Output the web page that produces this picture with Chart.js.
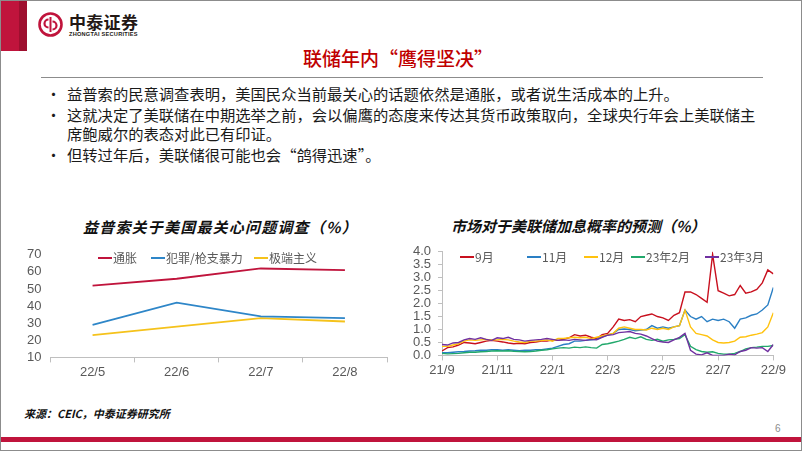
<!DOCTYPE html>
<html>
<head>
<meta charset="utf-8">
<script src="https://cdn.jsdelivr.net/npm/chart.js@4.4.0/dist/chart.umd.min.js"></script>
<style>
  html, body { margin: 0; padding: 0; background: #fff; }
  #slide {
    position: relative; width: 802px; height: 451px; overflow: hidden;
    box-sizing: border-box; border: 1px solid #8c8c8c; background: #fff;
    font-family: "Noto Sans CJK SC", "Noto Sans", sans-serif; color: #1a1a1a;
  }
  .abs { position: absolute; white-space: nowrap; }
  #redBlock { left: -1px; top: -1px; width: 27px; height: 51px; background: #c0143c; }
  #redBlock2 { left: 18px; top: -1px; width: 8px; height: 51px; background: #9e0f2f; }
  #brand { left: 68px; top: 11px; font-size: 17px; font-weight: 700; letter-spacing: 0.3px; color: #231815; line-height: 20px; }
  #brandEn { left: 68px; top: 30px; font-family: "Liberation Sans", Arial, sans-serif; font-size: 5.6px; font-weight: 700; letter-spacing: 0.25px; color: #231815; }
  #title { left: 302px; top: 45px; font-size: 19px; font-weight: 500; color: #c00000; line-height: 24px; }
  #rule { left: 40px; top: 76px; width: 722px; height: 1px; background: #8c8c8c; }
  .bullet { left: 45px; font-size: 15px; }
  .line { left: 66px; font-size: 15.3px; line-height: 20px; }
  .ctitle { font-size: 15px; font-weight: 700; font-style: italic; color: #111; line-height: 20px; }
  .leg { font-size: 12px; color: #595959; line-height: 16px; display: flex; align-items: center; }
  .leg i { display: inline-block; width: 14px; height: 2px; margin-right: 1px; }
  canvas { position: absolute; }
  #source { left: 23px; top: 404px; font-size: 11px; font-weight: 700; font-style: italic; color: #111; }
  #page { left: 774px; top: 422px; font-family: "Liberation Sans", Arial, sans-serif; font-size: 10px; color: #8c8c8c; }
  #bottomBar { left: 0; top: 436px; width: 802px; height: 5px; background: #c0143c; }
</style>
</head>
<body>
<div id="slide">
  <div class="abs" id="redBlock"></div>
  <div class="abs" id="redBlock2"></div>
  <svg class="abs" style="left:37px;top:11px" width="25" height="25" viewBox="0 0 25 25">
    <circle cx="12.5" cy="12.5" r="11" fill="none" stroke="#c0143c" stroke-width="2.6"/>
    <path d="M10.5 7.5 A4 4 0 1 0 10.5 15.5" fill="none" stroke="#c0143c" stroke-width="2.2"/>
    <path d="M14.5 9.5 A4 4 0 1 1 14.5 17.5" fill="none" stroke="#c0143c" stroke-width="2.2"/>
    <line x1="12.5" y1="5" x2="12.5" y2="20" stroke="#c0143c" stroke-width="2"/>
  </svg>
  <div class="abs" id="brand">中泰证券</div>
  <div class="abs" id="brandEn">ZHONGTAI SECURITIES</div>

  <div class="abs" id="title">联储年内“鹰得坚决”</div>
  <div class="abs" id="rule"></div>

  <div class="abs bullet" style="top:82px">•</div>
  <div class="abs line" style="top:82px">益普索的民意调查表明，美国民众当前最关心的话题依然是通胀，或者说生活成本的上升。</div>
  <div class="abs bullet" style="top:103px">•</div>
  <div class="abs line" style="top:103px">这就决定了美联储在中期选举之前，会以偏鹰的态度来传达其货币政策取向，全球央行年会上美联储主</div>
  <div class="abs line" style="top:122px">席鲍威尔的表态对此已有印证。</div>
  <div class="abs bullet" style="top:143px">•</div>
  <div class="abs line" style="top:143px">但转过年后，美联储很可能也会“鸽得迅速”。</div>

  <div class="abs ctitle" style="left:82px;top:216px;letter-spacing:1.2px">益普索关于美国最关心问题调查（%）</div>
  <div class="abs ctitle" style="left:450px;top:215px">市场对于美联储加息概率的预测（%）</div>

  <canvas id="surveyChart" width="385" height="144" style="left:10px;top:237px"></canvas>
  <canvas id="hikeChart" width="387" height="143" style="left:400px;top:236px"></canvas>

  <div id="surveyLegend"></div>
  <div id="hikeLegend"></div>

  <div class="abs" id="source">来源：CEIC，中泰证券研究所</div>
  <div class="abs" id="page">6</div>
  <div class="abs" id="bottomBar"></div>
</div>

<script>
// left chart: Ipsos survey (%)
const surveyMonths = ['22/5', '22/6', '22/7', '22/8'];
const surveyNames = ['通胀', '犯罪/枪支暴力', '极端主义'];
const inflation = [52, 56, 62, 61];
const crime = [29, 42, 34, 33];
const extremism = [23, 28, 33, 31];

// right chart: market-implied hikes, x = months since 21/9
const hikeTickLabels = ['21/9', '21/11', '22/1', '22/3', '22/5', '22/7', '22/9'];
const hikeNames = ['9月', '11月', '12月', '23年2月', '23年3月'];
const hikeX = [0, 0.2, 0.4, 0.6, 0.8, 1, 1.2, 1.4, 1.6, 1.8,
    2, 2.2, 2.4, 2.6, 2.8, 3, 3.2, 3.4, 3.6, 3.8,
    4, 4.2, 4.4, 4.6, 4.8, 5, 5.2, 5.4, 5.6, 5.8,
    6, 6.2, 6.4, 6.6, 6.8, 7, 7.2, 7.4, 7.6, 7.8,
    8, 8.2, 8.4, 8.6, 8.8, 9, 9.2, 9.4, 9.6, 9.8,
    10, 10.2, 10.4, 10.6, 10.8, 11, 11.2, 11.4, 11.6, 11.8, 12];
const hikeSep = [0.17, 0.30, 0.33, 0.40, 0.50, 0.48, 0.45, 0.50, 0.55, 0.58,
    0.55, 0.52, 0.48, 0.45, 0.47, 0.45, 0.50, 0.52, 0.55, 0.55,
    0.60, 0.58, 0.62, 0.68, 0.80, 0.75, 0.78, 0.70, 0.65, 0.80,
    0.85, 1.10, 1.40, 1.35, 1.38, 1.30, 1.50, 1.55, 1.60, 1.50,
    1.45, 1.35, 1.55, 1.65, 2.45, 2.45, 2.35, 2.20, 2.05, 3.90,
    2.50, 2.40, 2.30, 2.35, 2.70, 2.40, 2.45, 2.55, 2.80, 3.30, 3.15];
const hikeNov = [0.10, 0.10, 0.12, 0.14, 0.15, 0.17, 0.18, 0.20, 0.20, 0.22,
    0.22, 0.20, 0.22, 0.20, 0.18, 0.20, 0.20, 0.22, 0.22, 0.25,
    0.28, 0.35, 0.42, 0.45, 0.55, 0.55, 0.58, 0.60, 0.62, 0.72,
    0.78, 0.85, 1.00, 1.02, 1.00, 0.95, 0.98, 1.00, 1.15, 1.05,
    1.10, 1.05, 1.10, 1.15, 1.75, 1.50, 1.40, 1.50, 1.30, 1.40,
    1.35, 1.40, 1.30, 1.05, 1.40, 1.45, 1.55, 1.60, 1.75, 1.95, 2.62];
const hikeDec = [0.35, 0.35, 0.40, 0.45, 0.55, 0.60, 0.58, 0.60, 0.62, 0.60,
    0.60, 0.62, 0.60, 0.55, 0.52, 0.50, 0.55, 0.55, 0.57, 0.60,
    0.55, 0.65, 0.65, 0.68, 0.70, 0.68, 0.70, 0.65, 0.70, 0.75,
    0.80, 0.85, 1.05, 1.10, 1.05, 1.00, 1.00, 0.98, 1.05, 1.00,
    1.05, 1.00, 1.10, 1.15, 1.75, 1.10, 0.85, 0.80, 0.75, 0.60,
    0.50, 0.48, 0.50, 0.55, 0.70, 0.72, 0.78, 0.82, 0.88, 1.10, 1.65];
const hikeFeb = [0.08, 0.06, 0.07, 0.08, 0.10, 0.12, 0.12, 0.14, 0.15, 0.17,
    0.18, 0.17, 0.18, 0.16, 0.15, 0.14, 0.15, 0.17, 0.20, 0.22,
    0.25, 0.28, 0.30, 0.28, 0.32, 0.30, 0.33, 0.30, 0.28, 0.42,
    0.45, 0.50, 0.55, 0.62, 0.70, 0.65, 0.72, 0.62, 0.58, 0.62,
    0.55, 0.60, 0.62, 0.65, 0.80, 0.35, 0.22, 0.15, 0.12, 0.14,
    0.08, 0.05, 0.05, 0.08, 0.15, 0.25, 0.30, 0.32, 0.35, 0.35, 0.38];
const hikeMar = [0.42, 0.40, 0.48, 0.50, 0.60, 0.65, 0.62, 0.68, 0.62, 0.58,
    0.68, 0.65, 0.70, 0.62, 0.60, 0.55, 0.58, 0.60, 0.62, 0.65,
    0.62, 0.58, 0.60, 0.58, 0.62, 0.60, 0.58, 0.62, 0.60, 0.70,
    0.78, 0.80, 0.88, 0.90, 0.92, 0.85, 0.82, 0.75, 0.65, 0.55,
    0.52, 0.50, 0.60, 0.70, 0.85, 0.20, 0.05, 0.02, 0.10, 0.00,
    0.00, 0.00, 0.05, 0.02, 0.15, 0.20, 0.30, 0.28, 0.30, 0.15, 0.42];

const SlideCharts = {
    tickFont: { family: '"Liberation Sans", Arial, sans-serif', size: 13 },
    tickColor: '#595959',
    axisColor: '#bfbfbf',

    init() {
        if (typeof Chart === 'undefined') {
            console.error('Chart.js is not loaded');
            return;
        }
        this.createSurveyChart();
        this.createHikeChart();
    },

    // HTML legend drawn on top of the plot, like the original
    addLegend(holderId, names, colors, lefts, top) {
        const holder = document.getElementById(holderId);
        names.forEach((name, i) => {
            const item = document.createElement('div');
            item.className = 'abs leg';
            item.style.left = lefts[i] + 'px';
            item.style.top = top + 'px';
            item.innerHTML = '<i style="background:' + colors[i] + '"></i>' + name;
            holder.appendChild(item);
        });
    },

    createSurveyChart() {
        const colors = ['#c0143c', '#2e86c8', '#f5c21b'];
        const series = [inflation, crime, extremism];
        const ctx = document.getElementById('surveyChart').getContext('2d');

        new Chart(ctx, {
            type: 'line',
            data: {
                labels: surveyMonths,
                datasets: series.map((vals, i) => ({
                    label: surveyNames[i],
                    data: vals,
                    borderColor: colors[i],
                    borderWidth: 1.8,
                    pointRadius: 0,
                    tension: 0
                }))
            },
            options: {
                responsive: false,
                animation: false,
                layout: { padding: { right: 9 } },
                plugins: { legend: { display: false }, tooltip: { enabled: false } },
                scales: {
                    x: {
                        offset: true,
                        grid: { offset: true, drawOnChartArea: false, tickLength: 5, color: this.axisColor },
                        border: { color: this.axisColor },
                        ticks: { font: this.tickFont, color: this.tickColor, padding: 2, maxRotation: 0 }
                    },
                    y: {
                        min: 10,
                        max: 70,
                        afterFit: s => { s.width = 39.5; },
                        grid: { display: false, drawTicks: false },
                        border: { display: false },
                        ticks: { stepSize: 10, autoSkip: false, font: this.tickFont, color: this.tickColor, padding: 9 }
                    }
                }
            }
        });

        this.addLegend('surveyLegend', surveyNames, colors, [97, 150, 253], 249);
    },

    createHikeChart() {
        const colors = ['#c8101e', '#2a7fc4', '#ffc20e', '#21a86b', '#7030a0'];
        const series = [hikeSep, hikeNov, hikeDec, hikeFeb, hikeMar];
        const ctx = document.getElementById('hikeChart').getContext('2d');

        new Chart(ctx, {
            type: 'line',
            data: {
                datasets: series.map((vals, i) => ({
                    label: hikeNames[i],
                    data: vals.map((v, j) => ({ x: hikeX[j], y: v })),
                    borderColor: colors[i],
                    borderWidth: 1.4,
                    pointRadius: 0,
                    tension: 0
                })).reverse()
            },
            options: {
                responsive: false,
                animation: false,
                plugins: { legend: { display: false }, tooltip: { enabled: false } },
                scales: {
                    x: {
                        type: 'linear',
                        min: 0,
                        max: 12,
                        grid: { drawOnChartArea: false, tickLength: 5, color: this.axisColor },
                        border: { color: this.axisColor },
                        ticks: {
                            stepSize: 2,
                            autoSkip: false,
                            maxRotation: 0,
                            padding: 2,
                            font: this.tickFont,
                            color: this.tickColor,
                            callback: v => hikeTickLabels[v / 2]
                        }
                    },
                    y: {
                        min: 0,
                        max: 4,
                        afterFit: s => { s.width = 41; },
                        grid: { drawOnChartArea: false, tickLength: 4, color: this.axisColor },
                        border: { color: this.axisColor },
                        ticks: {
                            stepSize: 0.5,
                            autoSkip: false,
                            padding: 7,
                            font: this.tickFont,
                            color: this.tickColor,
                            callback: v => v.toFixed(1)
                        }
                    }
                }
            }
        });

        this.addLegend('hikeLegend', hikeNames, colors, [459, 526, 583, 630, 704], 248);
    }
};

SlideCharts.init();
</script>
</body>
</html>
